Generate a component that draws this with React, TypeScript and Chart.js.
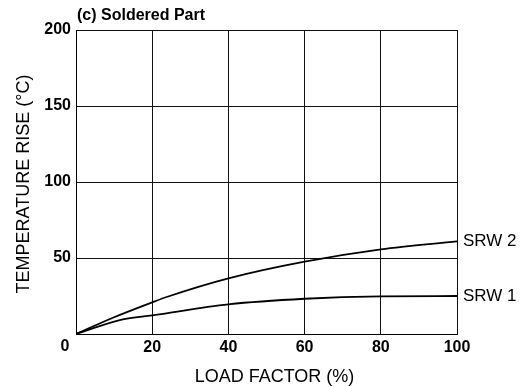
import React, { useEffect, useRef } from "react";
import { Chart, registerables } from "chart.js";

Chart.register(...registerables);

const srw2X = [0, 10, 20, 24, 40, 60, 80, 100];
const srw2Y = [0, 11, 20.8, 24.5, 36.6, 47.6, 55.7, 61];
const srw1X = [0, 12, 20, 40, 60, 80, 100];
const srw1Y = [0, 9.5, 12.3, 19.5, 23.2, 24.8, 25];
const seriesNames = ["SRW 2", "SRW 1"];
const xTicks = [0, 20, 40, 60, 80, 100];
const yTicks = [0, 50, 100, 150, 200];
const chartTitle = "(c) Soldered Part";
const xTitle = "LOAD FACTOR (%)";
const yTitle = "TEMPERATURE RISE (\u00B0C)";

const FONT = "'Liberation Sans', Arial, sans-serif";

const labelPlugin = {
  id: "labels",
  afterDraw(chart: any) {
    const ctx = chart.ctx;
    const area = chart.chartArea;
    ctx.save();
    ctx.fillStyle = "#000";
    ctx.font = `bold 16px ${FONT}`;
    ctx.textBaseline = "middle";
    ctx.textAlign = "left";
    ctx.fillText(chartTitle, area.left + 1, area.top - 14);
    ctx.font = `17px ${FONT}`;
    chart.data.datasets.forEach((ds: any, i: number) => {
      const meta = chart.getDatasetMeta(i);
      const last = meta.data[meta.data.length - 1];
      ctx.fillText(ds.label, area.right + 6, last.y);
    });
    ctx.font = `bold 16px ${FONT}`;
    ctx.textAlign = "center";
    ctx.fillText("0", area.left - 11, area.bottom + 13);
    ctx.font = `18px ${FONT}`;
    ctx.fillText(xTitle, (area.left + area.right) / 2 + 8, area.bottom + 43);
    ctx.translate(24, (area.top + area.bottom) / 2 + 2);
    ctx.rotate(-Math.PI / 2);
    ctx.fillText(yTitle, 0, 0);
    ctx.restore();
  },
};

export default function App() {
  const ref = useRef<HTMLCanvasElement>(null);
  useEffect(() => {
    if (!ref.current) return;
    const chart = new Chart(ref.current, {
      type: "line",
      data: {
        datasets: [
          {
            label: seriesNames[0],
            data: srw2X.map((x, i) => ({ x, y: srw2Y[i] })),
            borderColor: "#000",
            borderWidth: 1.8,
            pointRadius: 0,
            cubicInterpolationMode: "monotone",
          },
          {
            label: seriesNames[1],
            data: srw1X.map((x, i) => ({ x, y: srw1Y[i] })),
            borderColor: "#000",
            borderWidth: 1.8,
            pointRadius: 0,
            cubicInterpolationMode: "monotone",
          },
        ],
      },
      options: {
        animation: false,
        responsive: true,
        maintainAspectRatio: false,
        layout: { padding: { top: 30, right: 70, left: 0, bottom: 0 } },
        plugins: { legend: { display: false }, tooltip: { enabled: false } },
        scales: {
          x: {
            type: "linear",
            min: 0,
            max: 100,
            afterBuildTicks: (s: any) => {
              s.ticks = xTicks.map((v) => ({ value: v }));
            },
            afterFit: (s: any) => {
              s.height = 53;
            },
            grid: { color: "#111", lineWidth: 1, drawTicks: false },
            border: { color: "#000", width: 1 },
            ticks: {
              color: "#000",
              font: { family: FONT, size: 16, weight: "bold" },
              padding: 4,
              maxRotation: 0,
              callback: (v: any) => (v === 0 ? "" : String(v)),
            },
            title: { display: false },
          },
          y: {
            type: "linear",
            min: 0,
            max: 200,
            afterBuildTicks: (s: any) => {
              s.ticks = yTicks.map((v) => ({ value: v }));
            },
            afterFit: (s: any) => {
              s.width = 76;
            },
            grid: { color: "#111", lineWidth: 1, drawTicks: false },
            border: { color: "#000", width: 1 },
            ticks: {
              color: "#000",
              font: { family: FONT, size: 16, weight: "bold" },
              padding: 5,
              callback: (v: any) => (v === 0 ? "" : String(v)),
            },
            title: { display: false },
          },
        },
      },
      plugins: [labelPlugin],
    } as any);
    return () => chart.destroy();
  }, []);
  return (
    <div style={{ position: "fixed", left: 0, top: 0, width: 527, height: 387, background: "#fff" }}>
      <canvas ref={ref} />
    </div>
  );
}
